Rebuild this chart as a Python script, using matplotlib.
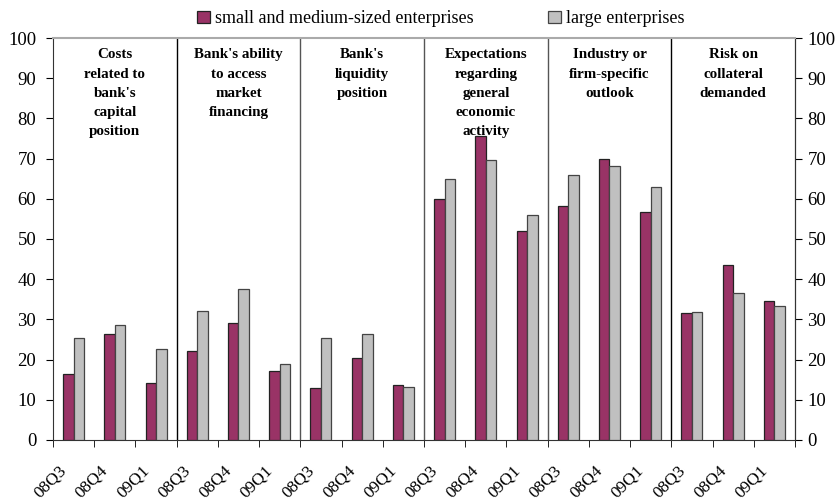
import numpy as np
import matplotlib.pyplot as plt
from matplotlib.transforms import ScaledTranslation

plt.rcParams['font.family'] = ['Liberation Serif', 'DejaVu Serif']

factors = ["Costs\nrelated to\nbank's\ncapital\nposition",
           "Bank's ability\nto access\nmarket\nfinancing",
           "Bank's\nliquidity\nposition",
           "Expectations\nregarding\ngeneral\neconomic\nactivity",
           "Industry or\nfirm-specific\noutlook",
           "Risk on\ncollateral\ndemanded"]
periods = ['08Q3', '08Q4', '09Q1']

sme = [16.3, 26.3, 14.3,
       22.2, 29.2, 17.1,
       13.0, 20.5, 13.6,
       59.9, 75.6, 51.9,
       58.1, 69.9, 56.8,
       31.5, 43.6, 34.5]
large = [25.3, 28.7, 22.7,
         32.2, 37.6, 19.0,
         25.3, 26.3, 13.2,
         65.0, 69.6, 55.9,
         65.9, 68.1, 63.0,
         31.8, 36.5, 33.3]

labels = periods * len(factors)
x = np.arange(len(sme))
w = 0.255

fig = plt.figure(figsize=(8.38, 5.04), dpi=100)
ax = fig.add_axes([0.0632, 0.127, 0.8855, 0.7976])

ax.bar(x - w / 2, sme, w, color='#993366', edgecolor='#222222', linewidth=0.9,
       label='small and medium-sized enterprises', zorder=3)
ax.bar(x + w / 2, large, w, color='#c0c0c0', edgecolor='#444444', linewidth=0.9,
       label='large enterprises', zorder=3)

# separators between factor groups
sep_colors = ['black', '#555555', '#555555', '#555555', 'black']
for k, c in zip(range(1, len(factors)), sep_colors):
    ax.axvline(3 * k - 0.5, color=c, linewidth=1.0, zorder=2)

for k, name in enumerate(factors):
    ax.text(3 * k + 1, 97.4, name, ha='center', va='top', fontsize=10.8,
            fontweight='bold', linespacing=1.62)

ax.set_xlim(-0.5, len(sme) - 0.5)
ax.set_ylim(0, 100)
ax.set_yticks(range(0, 101, 10))
ax.tick_params(axis='y', direction='out', length=5, labelsize=13.5, pad=7)

right = ax.secondary_yaxis('right')
right.set_yticks(range(0, 101, 10))
right.tick_params(axis='y', direction='out', length=5, labelsize=13.5, pad=4)
right.spines['right'].set_color('#333333')

ax.set_xticks(x)
ax.set_xticklabels(labels, rotation=45, ha='right', rotation_mode='anchor')
ax.set_xticks(np.arange(-0.5, len(sme), 1.0), minor=True)
ax.tick_params(axis='x', which='major', length=0, labelsize=12.5, pad=12)
ax.tick_params(axis='x', which='minor', length=5, direction='out')
shift = ScaledTranslation(-0.15, -0.06, fig.dpi_scale_trans)
for lab in ax.get_xticklabels():
    lab.set_transform(lab.get_transform() + shift)

for s in ['left', 'right', 'bottom']:
    ax.spines[s].set_color('#333333')
ax.spines['top'].set_color('#aaaaaa')
ax.spines['top'].set_linewidth(1.5)

fig.legend(loc='upper center', bbox_to_anchor=(0.526, 1.012), ncol=2, frameon=False,
           fontsize=13, handlelength=0.7, handleheight=0.7, handletextpad=0.3,
           columnspacing=4.1)

fig.savefig('out.png', dpi=100)
